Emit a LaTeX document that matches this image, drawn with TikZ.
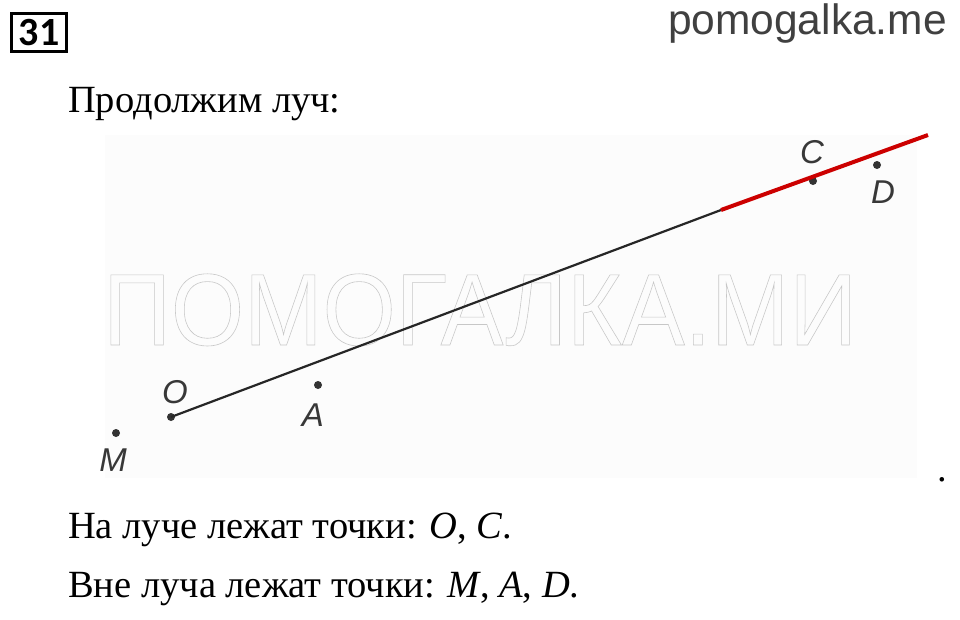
\documentclass[tikz,border=0pt]{standalone}
\usepackage{fontspec}
\setmainfont{Liberation Serif}
\newfontfamily\labelfont{Liberation Sans}
\newfontfamily\numfont{Carlito}
\begin{document}
\begin{tikzpicture}[x=1pt,y=-1pt,
    pt/.style={circle,fill=black!80,inner sep=0pt,minimum size=8pt},
    lbl/.style={inner sep=0pt,font=\labelfont\itshape\fontsize{33}{33}\selectfont,text=black!78},
    txt/.style={anchor=base west,inner sep=0pt,font=\fontsize{38.5}{38.5}\selectfont}]
  \fill[white](0,0) rectangle (960,619);
  \useasboundingbox(0,0) rectangle (960,619);
  \fill[black!1](105,135) rectangle (917,478);
  % header
  \node[draw,line width=3pt,minimum width=55pt,minimum height=38pt,inner sep=0pt,
        font=\numfont\bfseries\fontsize{40}{40}\selectfont] (num) at (39,32.5) {31};
  \node[anchor=base east,inner sep=0pt,font=\labelfont\fontsize{42.5}{42.5}\selectfont,text=black!75]
       (site) at (947,34) {pomogalka.me};
  \node[txt] (t1) at (68,112) {Продолжим луч:};
  % watermark
  \node[anchor=base west,inner sep=0pt,text=black!22,font=\labelfont\fontsize{102}{102}\selectfont]
       (wm) at (103,345) {\scalebox{0.923}[1]{\special{pdf:code 1 Tr 0.6 w}ПОМОГАЛКА.МИ\special{pdf:code 0 Tr}}};
  % ray
  \node[pt] (O) at (171,417) {};
  \node[pt] (A) at (318,385) {};
  \node[pt] (M) at (116,433) {};
  \node[pt] (C) at (813,181) {};
  \node[pt] (D) at (877,165) {};
  \coordinate (E) at (721,210);
  \coordinate (F) at (928,135);
  \draw[line width=2.2pt,black!85](O.center)--(E);
  \draw[line width=4pt,red!80!black](E)--(F);
  \node[lbl] (lO) at (175,392) {O};
  \node[lbl] (lA) at (313,415) {A};
  \node[lbl] (lM) at (113,460) {M};
  \node[lbl] (lC) at (812,152) {C};
  \node[lbl] (lD) at (883,192) {D};
  \node[txt] (stop) at (937,481) {.};
  % answers
  \node[txt] (t2) at (68,538) {На луче лежат точки: \textit{O}, \textit{C}.};
  \node[txt] (t3) at (68,597) {Вне луча лежат точки: \textit{M}, \textit{A}, \textit{D}.};
\end{tikzpicture}
\end{document}
